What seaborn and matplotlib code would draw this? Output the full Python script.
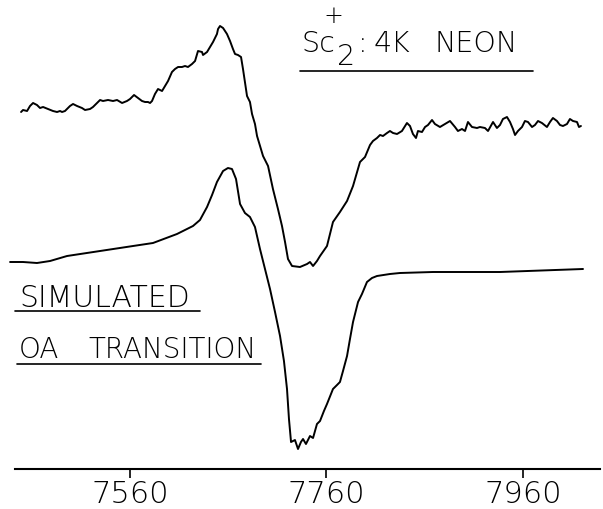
import numpy as np
import pandas as pd
import matplotlib
matplotlib.use("Agg")
import matplotlib.pyplot as plt
import seaborn as sns

# ---- data (magnetic field in G, intensity in arbitrary units) ----
exp_field = [7449.1, 7451.1, 7455.2, 7458.2, 7461.3, 7465.3, 7468.4, 7471.5, 7476.5, 7481.6,
             7485.7, 7488.8, 7490.8, 7493.8, 7498.9, 7502.0, 7506.1, 7511.1, 7514.2, 7519.3,
             7522.3, 7526.4, 7529.5, 7532.5, 7537.6, 7542.7, 7546.8, 7551.9, 7556.9, 7560.0,
             7564.1, 7568.1, 7572.2, 7575.3, 7578.3, 7580.4, 7582.4, 7585.4, 7588.5, 7592.6,
             7595.6, 7598.7, 7602.7, 7605.8, 7608.9, 7612.9, 7616.0, 7619.0, 7623.1, 7626.2,
             7629.2, 7633.3, 7634.3, 7638.4, 7641.4, 7644.5, 7648.5, 7649.6, 7651.6, 7654.7,
             7658.7, 7661.8, 7664.8, 7666.9, 7669.9, 7673.0, 7675.0, 7677.0, 7679.1, 7682.1,
             7684.2, 7687.2, 7689.3, 7695.4, 7700.5, 7705.5, 7710.6, 7714.7, 7717.8, 7720.8,
             7724.9, 7733.0, 7740.2, 7743.2, 7746.3, 7750.3, 7753.4, 7760.5, 7766.6, 7773.7,
             7780.9, 7787.0, 7794.1, 7799.2, 7804.3, 7807.3, 7811.4, 7814.5, 7817.5, 7821.6,
             7824.6, 7827.7, 7831.8, 7836.8, 7841.9, 7845.0, 7848.0, 7851.1, 7853.1, 7857.2,
             7860.3, 7863.3, 7867.4, 7870.4, 7875.5, 7880.6, 7885.7, 7890.8, 7893.8, 7897.9,
             7901.0, 7904.0, 7908.1, 7913.2, 7916.2, 7921.3, 7924.4, 7929.5, 7933.5, 7936.6,
             7939.6, 7943.7, 7946.8, 7949.8, 7951.9, 7954.9, 7959.0, 7962.0, 7965.1, 7969.2,
             7972.2, 7975.3, 7979.3, 7984.4, 7987.5, 7990.5, 7994.6, 7997.7, 8000.7, 8004.8,
             8007.8, 8010.9, 8015.0, 8017.0, 8019.0]
exp_signal = [357, 359, 358, 363, 366, 364, 361, 362, 360, 358,
              357, 358, 357, 358, 363, 365, 363, 361, 359, 360,
              362, 366, 369, 368, 369, 368, 369, 366, 368, 370,
              374, 371, 368, 367, 367, 366, 368, 375, 380, 378,
              383, 388, 397, 400, 402, 402, 403, 402, 405, 408,
              418, 417, 414, 417, 422, 427, 435, 440, 443, 441,
              435, 428, 420, 415, 414, 412, 400, 387, 373, 367,
              355, 345, 333, 313, 303, 280, 260, 243, 227, 210,
              203, 202, 205, 207, 203, 208, 213, 223, 247, 257,
              268, 283, 307, 312, 324, 328, 331, 334, 333, 336,
              338, 336, 335, 338, 346, 343, 335, 331, 338, 337,
              342, 344, 349, 345, 342, 345, 348, 342, 338, 340,
              338, 347, 342, 341, 342, 341, 338, 347, 341, 344,
              350, 352, 347, 340, 334, 338, 342, 348, 347, 342,
              344, 348, 346, 342, 347, 351, 348, 344, 343, 345,
              350, 348, 347, 342, 343]

sim_field = [7437.9, 7451.1, 7465.3, 7478.6, 7495.9, 7529.5, 7563.1, 7583.4, 7607.8, 7624.1,
             7631.2, 7638.4, 7643.5, 7648.5, 7654.7, 7659.7, 7663.8, 7667.9, 7672.0, 7677.0,
             7682.1, 7687.2, 7692.3, 7697.4, 7702.5, 7707.6, 7712.7, 7716.7, 7719.8, 7721.8,
             7723.9, 7727.9, 7731.0, 7734.0, 7736.1, 7739.1, 7743.2, 7746.3, 7750.3, 7753.4,
             7757.4, 7760.5, 7766.6, 7770.7, 7773.7, 7776.8, 7780.9, 7783.9, 7787.0, 7792.1,
             7796.1, 7801.2, 7806.3, 7811.4, 7824.6, 7834.8, 7868.4, 7936.6, 8021.1]
sim_signal = [207, 207, 206, 208, 213, 218, 223, 226, 235, 243,
              249, 262, 274, 287, 298, 301, 300, 290, 265, 256,
              252, 242, 220, 200, 180, 157, 133, 108, 80, 50,
              27, 29, 20, 27, 30, 25, 33, 31, 45, 48,
              58, 65, 80, 84, 87, 98, 113, 130, 147, 167,
              175, 187, 191, 193, 195, 196, 197, 197, 200]

tick_values = [7560, 7760, 7960]
tick_labels = ["7560", "7760", "7960"]

W, H = 603, 510
sns.set_style("white")
plt.rcParams['font.family'] = ['DejaVu Sans']
FW = 200  # thin lettering weight

fig = plt.figure(figsize=(W / 100, H / 100), dpi=100)
ax = fig.add_axes([8 / W, 40 / H, 592 / W, 470 / H])

sns.lineplot(x=exp_field, y=exp_signal, ax=ax, color="black", linewidth=1.4,
             sort=False, estimator=None)
sns.lineplot(x=sim_field, y=sim_signal, ax=ax, color="black", linewidth=1.4,
             sort=False, estimator=None)

ax.set_xlim(7435.8, 8038.4)
ax.set_ylim(0, 470)
ax.set_yticks([])
ax.set_xticks(tick_values)
ax.set_xticklabels(tick_labels)
ax.set_xlabel("")
ax.set_ylabel("")
for s in ["left", "top", "right"]:
    ax.spines[s].set_visible(False)
ax.spines["bottom"].set_linewidth(1.5)
ax.spines["bottom"].set_color("black")
ax.spines["bottom"].set_bounds(7443, 8038.4)
ax.tick_params(axis="x", bottom=True, direction="out", length=6.5, width=1.2,
               pad=0.5, labelsize=22, colors="black")
for lab in ax.get_xticklabels():
    lab.set_fontweight(FW)


def P(x, y):
    return (x / W, 1 - y / H)


def txt(x, y, s, size, **kw):
    fig.text(*P(x, y), s, fontsize=size, color="black", fontweight=FW,
             va="baseline", ha="left", **kw)


def uline(x0, x1, y):
    fig.add_artist(plt.Line2D([x0 / W, x1 / W], [1 - y / H, 1 - y / H],
                              color="black", linewidth=1.2))


# title block
txt(301, 52, "Sc", 20.5)
txt(337, 65, "2", 20.5)
txt(323, 23, "+", 17)
txt(358, 52, ":", 20.5)
txt(374, 52, "4K", 20.5)
txt(434, 52, "NEON", 20.5)
uline(300, 533, 72)

# simulated label
txt(19, 307, "SIMULATED", 21.5)
uline(15, 200, 312)
txt(19, 358, "OA", 20)
txt(88, 358, "TRANSITION", 20)
uline(17, 261, 365)

fig.savefig("out.png", dpi=100)
